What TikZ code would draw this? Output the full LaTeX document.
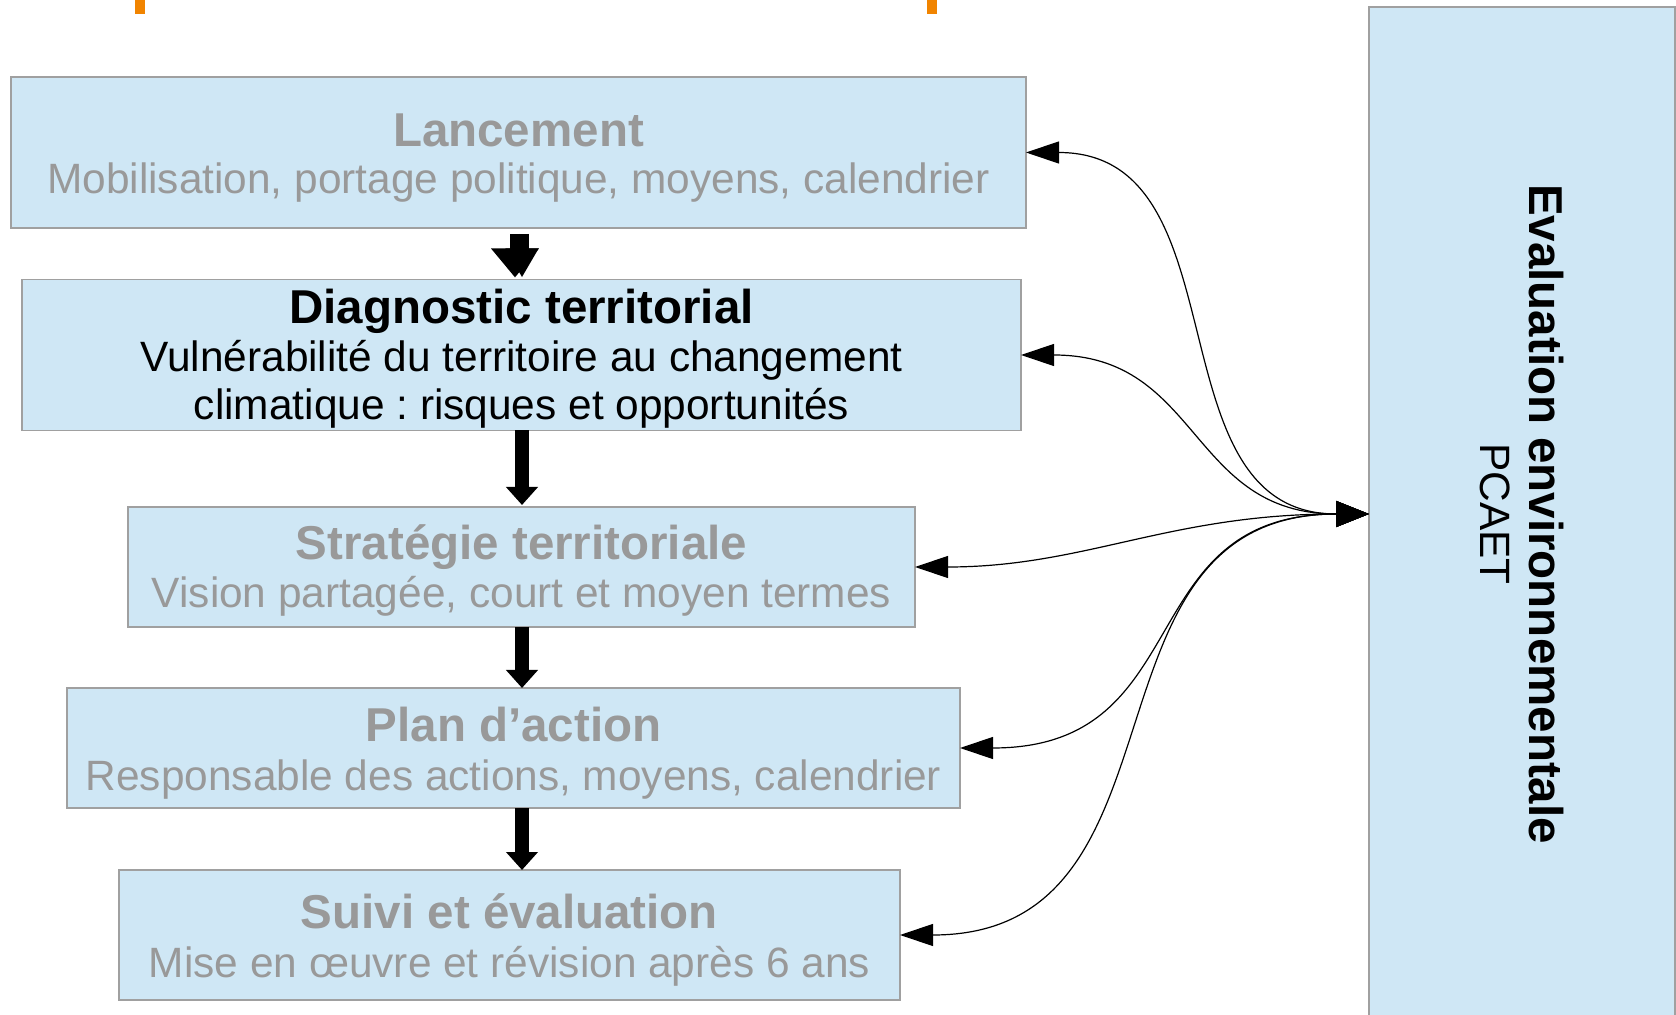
\documentclass[tikz,border=0pt]{standalone}
\usepackage{fontspec}
\setmainfont{Liberation Sans}
\usetikzlibrary{arrows.meta}
\definecolor{boxfill}{HTML}{CFE7F5}
\definecolor{boxline}{HTML}{A0A0A0}
\definecolor{txtgray}{HTML}{999999}
\definecolor{tickorange}{HTML}{F18400}
\frenchspacing
\begin{document}
\begin{tikzpicture}[x=0.5pt,y=-0.5pt,
  stage/.style={draw=boxline, fill=boxfill, line width=0.7pt, inner sep=0pt, outer sep=0pt},
  ttl/.style={anchor=base, inner sep=0pt, font=\fontsize{23.75}{28}\selectfont\bfseries},
  sub/.style={anchor=base, inner sep=0pt, font=\fontsize{21.2}{25}\selectfont},
  faded/.style={text=txtgray},
  bigarrow/.style={line width=7pt, -{Triangle[length=9pt,width=15.5pt]}},
  link/.style={line width=0.6pt, {Triangle[length=16.5pt,width=11pt]}-{Triangle[length=16.5pt,width=13pt]}},
]
\useasboundingbox (0,0) rectangle (1676,1015);
% orange ticks
\fill[tickorange] (135,0) rectangle (145,14);
\fill[tickorange] (927,0) rectangle (937,14);

% boxes
\node[stage, minimum width=507.5pt, minimum height=75.5pt] (lanc) at (518.5,152.5) {};
\node[stage, minimum width=499.5pt, minimum height=75.5pt] (diag) at (521.5,355) {};
\node[stage, minimum width=393.5pt, minimum height=60pt] (strat) at (521.5,567) {};
\node[stage, minimum width=446.5pt, minimum height=60pt] (plan) at (513.5,748) {};
\node[stage, minimum width=390.5pt, minimum height=65pt] (suivi) at (509.5,935) {};
\node[stage, minimum width=153pt, minimum height=507pt] (eval) at (1522,514) {};

% texts
\node[ttl, faded] (lancT) at (518.5,147) {Lancement};
\node[sub, faded] (lancS) at (518.5,194) {Mobilisation, portage politique, moyens, calendrier};
\node[ttl] (diagT) at (521.5,324) {Diagnostic territorial};
\node[sub] (diagS) at (521.5,372) {Vulnérabilité du territoire au changement};
\node[sub] (diagS2) at (521.5,420) {climatique : risques et opportunités};
\node[ttl, faded] (stratT) at (521.5,560) {Stratégie territoriale};
\node[sub, faded] (stratS) at (521.5,608) {Vision partagée, court et moyen termes};
\node[ttl, faded] (planT) at (513.5,741) {Plan d’action};
\node[sub, faded] (planS) at (513.5,790) {Responsable des actions, moyens, calendrier};
\node[ttl, faded] (suiviT) at (509.5,928) {Suivi et évaluation};
\node[sub, faded] (suiviS) at (509.5,977) {Mise en œuvre et révision après 6 ans};
\node[ttl, rotate=-90] (evalT) at (1529,514) {Evaluation environnementale};
\node[sub, rotate=-90] (evalS) at (1480,514) {PCAET};

% thick arrows
\coordinate (ax) at (522,0);
\coordinate (axA) at (515,0);
\draw[line width=5pt, -{Triangle[length=14.5pt,width=23pt]}, shorten <=3pt, shorten >=1pt] (lanc.south -| axA) -- (diag.north -| axA);
\draw[line width=7pt, -{Triangle[length=14.5pt,width=15.5pt]}, shorten <=3pt, shorten >=1pt] (lanc.south -| ax) -- (diag.north -| ax);
\draw[bigarrow, shorten >=1pt] (diag.south -| ax) -- (strat.north -| ax);
\draw[bigarrow] (strat.south -| ax) -- (plan.north -| ax);
\draw[bigarrow] (plan.south -| ax) -- (suivi.north -| ax);

% curved links
\draw[link] (lanc.east) .. controls +(220,0) and +(-220,0) .. (eval.west);
\draw[link] (diag.east) .. controls +(180,0) and +(-180,0) .. (eval.west);
\draw[link] (strat.east) .. controls +(170,0) and +(-200,0) .. (eval.west);
\draw[link] (plan.east) .. controls +(240,0) and +(-240,0) .. (eval.west);
\draw[link] (suivi.east) .. controls +(300,0) and +(-300,0) .. (eval.west);
\end{tikzpicture}
\end{document}
